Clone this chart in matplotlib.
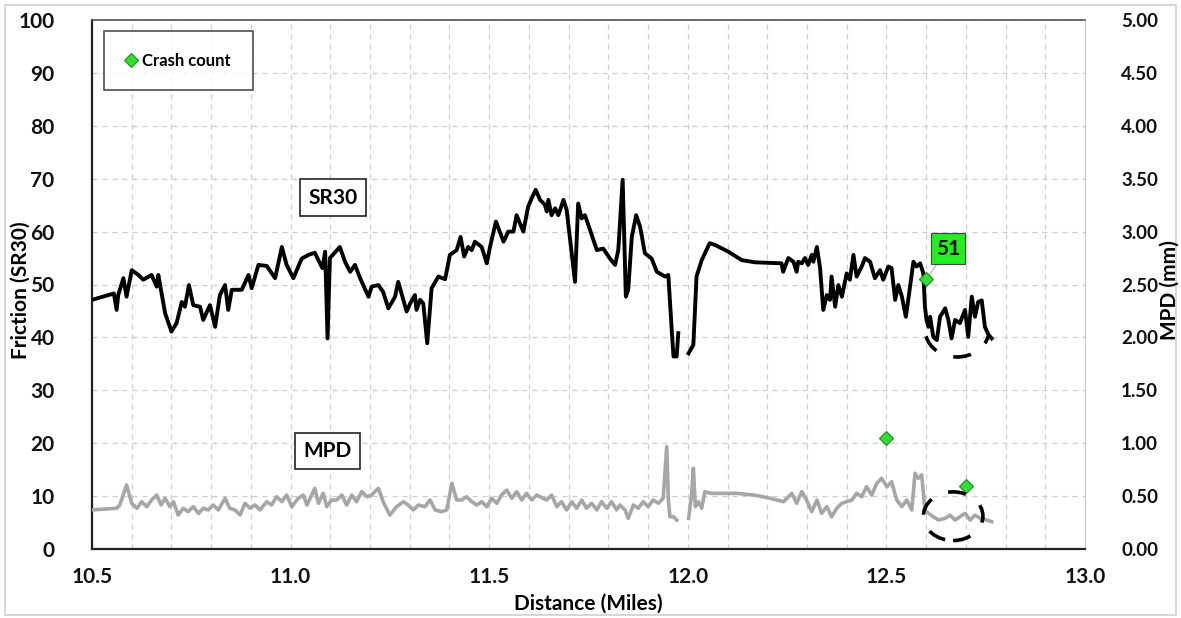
import numpy as np
import matplotlib
matplotlib.use("Agg")
import matplotlib.pyplot as plt
from matplotlib.patches import Ellipse, Rectangle, Arc
from matplotlib.ticker import MultipleLocator

plt.rcParams['font.family'] = ['Lato', 'DejaVu Sans']
plt.rcParams['font.weight'] = 'bold'

# ---------------- data ----------------
sr30_dist = [10.500, 10.555, 10.562, 10.566, 10.579, 10.587, 10.600, 10.617, 10.629, 10.650,
             10.663, 10.667, 10.684, 10.700, 10.713, 10.726, 10.734, 10.744, 10.755, 10.772,
             10.780, 10.797, 10.810, 10.822, 10.835, 10.843, 10.852, 10.877, 10.894, 10.902,
             10.919, 10.940, 10.961, 10.978, 10.990, 11.007, 11.028, 11.045, 11.061, 11.070,
             11.080, 11.087, 11.093, 11.099, 11.124, 11.137, 11.150, 11.162, 11.175, 11.196,
             11.204, 11.221, 11.233, 11.246, 11.263, 11.271, 11.292, 11.301, 11.313, 11.317,
             11.326, 11.334, 11.344, 11.355, 11.372, 11.389, 11.401, 11.418, 11.428, 11.437,
             11.447, 11.456, 11.464, 11.481, 11.494, 11.502, 11.517, 11.536, 11.548, 11.561,
             11.569, 11.586, 11.598, 11.607, 11.617, 11.628, 11.640, 11.645, 11.649, 11.657,
             11.666, 11.674, 11.687, 11.695, 11.716, 11.724, 11.733, 11.741, 11.754, 11.771,
             11.787, 11.804, 11.817, 11.825, 11.836, 11.844, 11.850, 11.859, 11.870, 11.880,
             11.892, 11.909, 11.922, 11.943, 11.951, 11.960, 11.964, 11.972, 11.976, 11.989,
             12.002, 12.014, 12.022, 12.027, 12.035, 12.043, 12.055, 12.068, 12.102, 12.136,
             12.169, 12.236, 12.240, 12.253, 12.266, 12.274, 12.278, 12.287, 12.295, 12.303,
             12.312, 12.316, 12.325, 12.333, 12.341, 12.350, 12.358, 12.362, 12.371, 12.379,
             12.388, 12.400, 12.408, 12.417, 12.425, 12.438, 12.446, 12.459, 12.471, 12.484,
             12.492, 12.505, 12.513, 12.522, 12.530, 12.539, 12.549, 12.555, 12.568, 12.576,
             12.585, 12.593, 12.597, 12.601, 12.606, 12.610, 12.618, 12.627, 12.635, 12.648,
             12.656, 12.664, 12.673, 12.685, 12.698, 12.706, 12.715, 12.723, 12.731, 12.740,
             12.748, 12.757, 12.765]
sr30_vals = [47.1, 48.3, 45.2, 48.0, 51.2, 47.7, 52.7, 51.8, 50.9, 51.8,
             49.6, 51.8, 44.6, 41.1, 42.7, 46.7, 45.8, 49.9, 46.1, 45.8,
             43.3, 46.1, 42.0, 48.0, 49.9, 45.2, 49.0, 49.0, 51.8, 49.3,
             53.7, 53.5, 51.2, 57.1, 53.7, 51.2, 54.9, 55.6, 56.0, 54.6,
             53.1, 56.2, 39.8, 55.0, 57.1, 54.3, 52.4, 53.7, 51.2, 47.7,
             49.6, 49.9, 48.6, 45.5, 47.7, 50.5, 44.9, 46.4, 48.0, 45.2,
             47.1, 46.4, 38.9, 49.3, 51.5, 51.0, 55.6, 56.5, 59.0, 55.3,
             57.1, 56.5, 58.1, 57.1, 54.0, 57.1, 61.9, 58.1, 60.0, 60.0,
             63.1, 60.0, 64.7, 66.3, 67.9, 66.0, 65.1, 63.8, 66.0, 63.1,
             64.4, 63.1, 66.0, 64.1, 50.5, 65.3, 62.5, 63.1, 60.3, 56.5,
             56.8, 54.9, 53.7, 56.5, 69.8, 47.7, 49.0, 59.0, 63.1, 60.9,
             55.9, 54.9, 52.4, 51.5, 51.8, 40.8, 36.4, 36.4, 40.8, np.nan,
             37.0, 38.6, 51.5, 52.7, 54.6, 55.9, 57.8, 57.5, 56.2, 54.6,
             54.2, 54.0, 52.4, 55.0, 54.3, 52.4, 54.3, 54.0, 55.0, 53.7,
             55.6, 54.3, 57.1, 53.1, 45.2, 48.0, 47.1, 51.5, 45.8, 49.9,
             47.7, 52.1, 50.9, 55.6, 51.5, 53.4, 55.0, 54.3, 51.2, 52.7,
             50.9, 53.4, 53.1, 47.1, 49.9, 47.7, 43.9, 47.1, 54.3, 53.4,
             54.0, 52.1, 45.8, 43.3, 42.0, 43.9, 40.1, 39.5, 43.9, 45.5,
             43.3, 39.8, 43.3, 42.7, 45.2, 40.1, 47.7, 43.9, 46.7, 47.0,
             42.0, 40.5, 39.8]

mpd_dist = [10.503, 10.562, 10.570, 10.587, 10.600, 10.613, 10.625, 10.638, 10.650, 10.663,
            10.674, 10.684, 10.696, 10.705, 10.717, 10.730, 10.742, 10.755, 10.768, 10.780,
            10.793, 10.805, 10.818, 10.835, 10.847, 10.860, 10.873, 10.885, 10.898, 10.910,
            10.923, 10.940, 10.952, 10.965, 10.978, 10.990, 11.003, 11.019, 11.032, 11.041,
            11.053, 11.061, 11.070, 11.082, 11.091, 11.103, 11.116, 11.129, 11.141, 11.154,
            11.166, 11.179, 11.192, 11.204, 11.221, 11.233, 11.250, 11.267, 11.284, 11.296,
            11.309, 11.322, 11.338, 11.351, 11.364, 11.380, 11.393, 11.406, 11.418, 11.431,
            11.443, 11.456, 11.469, 11.481, 11.494, 11.506, 11.519, 11.531, 11.544, 11.557,
            11.569, 11.582, 11.594, 11.607, 11.620, 11.636, 11.645, 11.657, 11.670, 11.682,
            11.695, 11.708, 11.720, 11.733, 11.745, 11.758, 11.771, 11.783, 11.796, 11.808,
            11.821, 11.829, 11.842, 11.850, 11.863, 11.875, 11.888, 11.900, 11.913, 11.926,
            11.938, 11.947, 11.951, 11.955, 11.964, 11.972, 11.988,
            12.002, 12.009, 12.014, 12.019, 12.027, 12.035, 12.043, 12.059, 12.124, 12.166,
            12.208, 12.241, 12.262, 12.274, 12.287, 12.299, 12.312, 12.325, 12.337, 12.350,
            12.362, 12.375, 12.388, 12.400, 12.413, 12.425, 12.438, 12.450, 12.463, 12.476,
            12.488, 12.501, 12.513, 12.526, 12.539, 12.551, 12.564, 12.572, 12.580, 12.589,
            12.597, 12.606, 12.618, 12.631, 12.648, 12.660, 12.673, 12.685, 12.698, 12.711,
            12.723, 12.736, 12.752, 12.765]
mpd_vals = [0.370, 0.385, 0.416, 0.605, 0.432, 0.385, 0.447, 0.400, 0.463, 0.510,
            0.416, 0.479, 0.400, 0.447, 0.321, 0.385, 0.353, 0.400, 0.337, 0.385,
            0.369, 0.416, 0.369, 0.479, 0.385, 0.369, 0.321, 0.432, 0.385, 0.416,
            0.369, 0.447, 0.416, 0.494, 0.447, 0.510, 0.400, 0.479, 0.510, 0.416,
            0.510, 0.574, 0.432, 0.526, 0.400, 0.463, 0.463, 0.510, 0.416, 0.510,
            0.447, 0.542, 0.494, 0.510, 0.574, 0.447, 0.321, 0.400, 0.447, 0.416,
            0.369, 0.416, 0.400, 0.463, 0.369, 0.353, 0.369, 0.621, 0.463, 0.463,
            0.494, 0.447, 0.416, 0.447, 0.400, 0.479, 0.432, 0.510, 0.557, 0.479,
            0.542, 0.463, 0.526, 0.463, 0.510, 0.479, 0.463, 0.510, 0.400, 0.447,
            0.369, 0.447, 0.385, 0.463, 0.385, 0.432, 0.369, 0.447, 0.385, 0.447,
            0.369, 0.416, 0.369, 0.290, 0.416, 0.385, 0.447, 0.400, 0.463, 0.432,
            0.479, 0.967, 0.463, 0.305, 0.305, 0.274, np.nan,
            0.290, 0.494, 0.763, 0.400, 0.447, 0.385, 0.542, 0.526, 0.526, 0.510,
            0.479, 0.447, 0.526, 0.432, 0.542, 0.463, 0.353, 0.463, 0.337, 0.400,
            0.305, 0.385, 0.432, 0.447, 0.463, 0.526, 0.494, 0.589, 0.510, 0.621,
            0.668, 0.589, 0.636, 0.463, 0.400, 0.463, 0.369, 0.716, 0.668, 0.700,
            0.369, 0.337, 0.305, 0.274, 0.290, 0.320, 0.274, 0.305, 0.337, 0.274,
            0.320, 0.290, 0.274, 0.258]

crash_dist = [12.5, 12.6, 12.7]
crash_count = [21, 51, 12]

x_ticks = [10.5, 11.0, 11.5, 12.0, 12.5, 13.0]
y_left_ticks = list(range(0, 101, 10))
y_right_ticks = [0.0, 0.5, 1.0, 1.5, 2.0, 2.5, 3.0, 3.5, 4.0, 4.5, 5.0]

# ---------------- figure ----------------
W, H = 1181, 618
fig = plt.figure(figsize=(W / 100, H / 100), dpi=100)
fig.patch.set_facecolor('white')
fig.add_artist(Rectangle((5 / W, 3 / H), 1 - 10 / W, 1 - 8 / H, transform=fig.transFigure,
                         fill=False, edgecolor='#d0d0d0', lw=1.2))

L, R, T, B = 92, 1085, 20, 549
ax = fig.add_axes([L / W, 1 - B / H, (R - L) / W, (B - T) / H])
ax2 = ax.twinx()

ax.set_xlim(10.5, 13.0)
ax.set_ylim(0, 100)
ax2.set_ylim(0, 5)

ax.xaxis.set_minor_locator(MultipleLocator(0.1))
ax.set_xticks(x_ticks)
ax.set_xticklabels([f"{v:.1f}" for v in x_ticks])
ax.set_yticks(y_left_ticks)
ax2.set_yticks(y_right_ticks)
ax2.set_yticklabels([f"{v:.2f}" for v in y_right_ticks])

grid_kw = dict(color='#cccccc', linestyle=(0, (4, 4)), linewidth=0.9)
ax.grid(True, which='both', axis='x', **grid_kw)
ax.grid(True, which='major', axis='y', **grid_kw)
ax.set_axisbelow(True)

for s in ['left', 'bottom']:
    ax.spines[s].set_color('#222222')
    ax.spines[s].set_linewidth(1.6)
ax.spines['top'].set_color('#555555')
ax.spines['top'].set_linewidth(1.2)
ax.spines['right'].set_color('#c8c8c8')
for s in ax2.spines.values():
    s.set_visible(False)

FS = 15
ax.tick_params(axis='both', which='both', length=0, labelsize=FS, colors='#111111')
ax.tick_params(axis='y', pad=27)
ax.tick_params(axis='x', pad=13)
ax2.tick_params(axis='y', length=0, labelsize=13.5, colors='#111111', pad=26)
for lab in ax.get_xticklabels() + ax.get_yticklabels() + ax2.get_yticklabels():
    lab.set_fontweight('bold')

ax.set_xlabel('Distance (Miles)', fontsize=FS, fontweight='bold')
ax.set_ylabel('Friction (SR30)', fontsize=FS, fontweight='bold')
ax2.set_ylabel('MPD (mm)', fontsize=FS, fontweight='bold', rotation=90)
ax.xaxis.set_label_coords((588 - L) / (R - L), -(604 - B) / (B - T))
ax.yaxis.set_label_coords(-(L - 21) / (R - L), (B - 290) / (B - T))
ax2.yaxis.set_label_coords((1170 - L) / (R - L), (B - 290) / (B - T))
ax.xaxis.label.set_va('center')
ax.yaxis.label.set_va('center')
ax2.yaxis.label.set_va('center')
ax2.yaxis.label.set_ha('center')

# lines
ax.plot(sr30_dist, sr30_vals, color='black', lw=2.8, solid_joinstyle='round', zorder=3)
ax2.plot(mpd_dist, mpd_vals, color='#a6a6a6', lw=2.6, solid_joinstyle='round', zorder=3)

# crash markers
ax2.set_zorder(ax.get_zorder() + 1)
ax2.patch.set_visible(False)
ax2.plot(crash_dist, [c / 20 for c in crash_count], linestyle='none', marker='D', markersize=7,
         markerfacecolor='#33dd33', markeredgecolor='#1c8a1c', markeredgewidth=0.8, zorder=5,
         label='Crash count')

ax2.annotate(str(crash_count[1]), xy=(crash_dist[1], crash_count[1] / 20),
             xytext=(crash_dist[1] + 0.055, 56.8 / 20), ha='center', va='center',
             fontsize=FS, fontweight='bold', color='#111111',
             bbox=dict(boxstyle='square,pad=0.25', fc='#22ee22', ec='#444444', lw=0.8),
             arrowprops=dict(arrowstyle='-', color='#999999', lw=0.6, shrinkA=0, shrinkB=3))

# series labels
ax.text(11.107, 66.4, 'SR30', ha='center', va='center', fontsize=FS, fontweight='bold',
        bbox=dict(boxstyle='square,pad=0.4', fc='white', ec='#222222', lw=1.2), zorder=6)
ax.text(11.092, 18.5, 'MPD', ha='center', va='center', fontsize=FS, fontweight='bold',
        bbox=dict(boxstyle='square,pad=0.4', fc='white', ec='#222222', lw=1.2), zorder=6)

# dashed highlight marks
ax2.add_patch(Arc((12.678, 41.3 / 20), 0.16, 10.0 / 20, theta1=215, theta2=325,
                  edgecolor='black', lw=2.6, linestyle=(0, (5, 5)), zorder=6))
ax2.add_patch(Ellipse((12.668, 6.2 / 20), 0.15, 9.2 / 20, fill=False, edgecolor='black', lw=2.6,
                      linestyle=(0, (5, 5)), zorder=6))

leg = ax2.legend(loc='upper left', bbox_to_anchor=(12 / (R - L), 1 - 11 / (B - T)),
                 frameon=True, fancybox=False, edgecolor='#222222',
                 handlelength=0.6, handletextpad=0.4, borderpad=1.3, borderaxespad=0,
                 prop={'weight': 'bold', 'size': 12})
leg.get_frame().set_linewidth(1.2)

fig.savefig('out.png', dpi=100, facecolor='white')
